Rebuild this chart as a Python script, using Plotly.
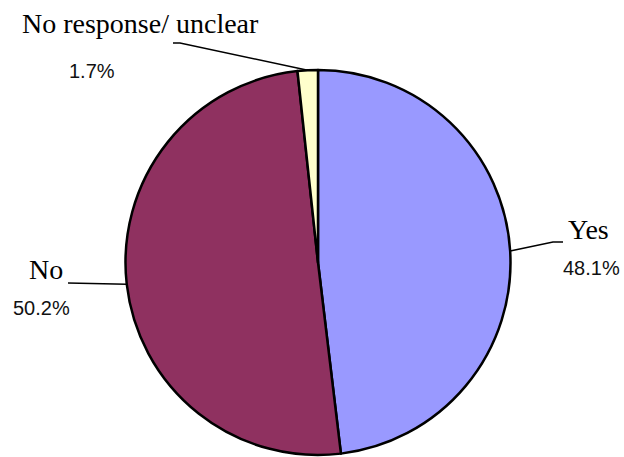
import math
import plotly.graph_objects as go

labels = ["Yes", "No", "No response/ unclear"]
values = [48.1, 50.2, 1.7]
pct_text = ["48.1%", "50.2%", "1.7%"]
colors = ["#9999FF", "#8F3160", "#FFFFCC"]

W, H = 624, 457
cx, top, bot = 318, 70, 455
r = (bot - top) / 2
cy = top + r

def px(x):
    return x / W

def py(y):
    return 1 - y / H

fig = go.Figure(go.Pie(
    labels=labels, values=values, sort=False, direction="clockwise",
    rotation=0, textinfo="none", hoverinfo="label+percent",
    marker=dict(colors=colors, line=dict(color="#000000", width=2.5)),
    domain=dict(x=[px(cx - r), px(cx + r)], y=[py(bot), py(top)]),
    showlegend=False,
))

# label layout (pixel positions of label text and leader elbows)
name_pos = [(588, 230), (46, 269), (140, 24)]
pct_pos = [(591, 268), (41, 308), (92, 71)]
elbows = [[(553, 242), (563, 242)], [(68, 283)], [(180, 43), (173, 43)]]

total = sum(values)
cum = 0
shapes = []
annotations = []
for i, v in enumerate(values):
    mid = (cum + v / 2) / total * 2 * math.pi
    cum += v
    ex = cx + r * math.sin(mid)
    ey = cy - r * math.cos(mid)
    pts = [(ex, ey)] + elbows[i]
    path = "M {} {}".format(px(pts[0][0]), py(pts[0][1]))
    for (x, y) in pts[1:]:
        path += " L {} {}".format(px(x), py(y))
    shapes.append(dict(type="path", xref="paper", yref="paper", path=path,
                       line=dict(color="#000000", width=1.5)))
    annotations.append(dict(x=px(name_pos[i][0]), y=py(name_pos[i][1]), xref="paper", yref="paper",
                            text=labels[i], showarrow=False, xanchor="center", yanchor="middle",
                            font=dict(family="Liberation Serif, DejaVu Serif, serif", size=28, color="#000000")))
    annotations.append(dict(x=px(pct_pos[i][0]), y=py(pct_pos[i][1]), xref="paper", yref="paper",
                            text=pct_text[i], showarrow=False, xanchor="center", yanchor="middle",
                            font=dict(family="Liberation Sans, Arial, sans-serif", size=20, color="#111111")))

fig.update_layout(
    width=W, height=H, margin=dict(l=0, r=0, t=0, b=0),
    paper_bgcolor="#FFFFFF", plot_bgcolor="#FFFFFF",
    shapes=shapes, annotations=annotations,
)

fig.write_html("out.html")
